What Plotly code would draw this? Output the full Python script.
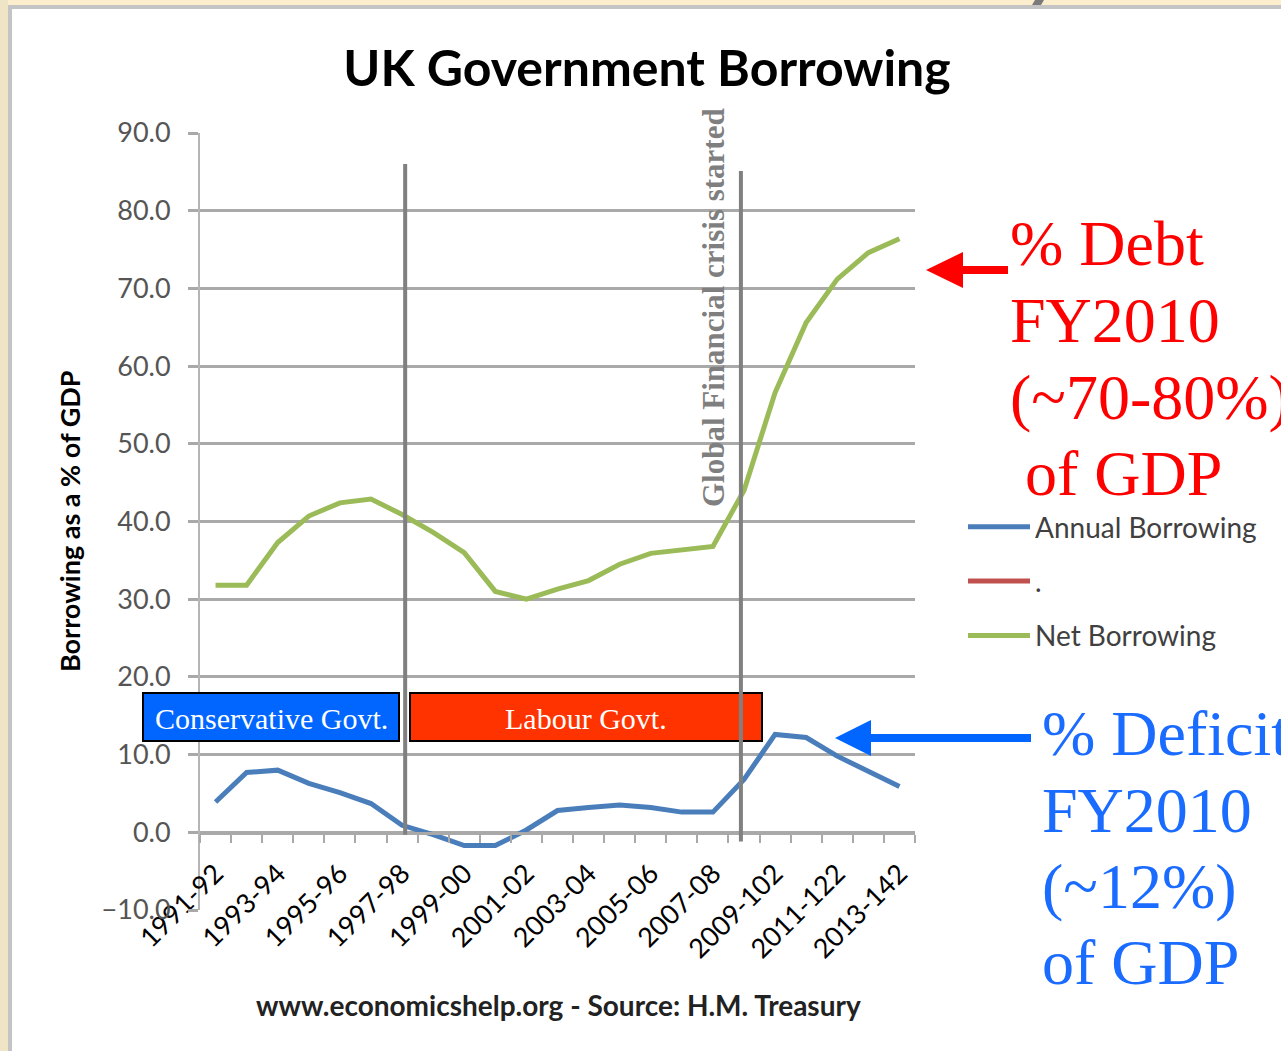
import plotly.graph_objects as go

# ---------------- data ----------------
years = ["1991-92", "1992-93", "1993-94", "1994-95", "1995-96", "1996-97", "1997-98",
         "1998-99", "1999-00", "2000-01", "2001-02", "2002-03", "2003-04", "2004-05",
         "2005-06", "2006-07", "2007-08", "2008-09", "2009-10", "2010-11", "2011-12",
         "2012-13", "2013-14"]
tick_labels = ["1991-92", "1993-94", "1995-96", "1997-98", "1999-00", "2001-02",
               "2003-04", "2005-06", "2007-08", "2009-102", "2011-122", "2013-142"]
annual_borrowing = [3.9, 7.7, 8.0, 6.3, 5.1, 3.7, 0.9, -0.3, -1.7, -1.7, 0.3, 2.8, 3.2,
                    3.5, 3.2, 2.6, 2.6, 6.8, 12.6, 12.2, 9.8, 7.9, 5.9]
net_borrowing = [31.8, 31.8, 37.3, 40.7, 42.4, 42.9, 40.9, 38.6, 36.0, 31.0, 30.0, 31.3,
                 32.4, 34.5, 35.9, 36.3, 36.8, 44.0, 56.6, 65.6, 71.2, 74.6, 76.4]
blank_series = [None] * len(years)

# ---------------- geometry helpers (reference pixel -> paper) ----------------
W, H = 1281, 1051
L, T = 200, 133
PW, PH = 715, 777
R, B = W - L - PW, H - T - PH


def px(x):
    return (x - L) / PW


def py(y):
    return (H - B - y) / PH


xi = list(range(len(years)))
tick_idx = list(range(0, len(years), 2))

GRID = "#A9A9A9"
fig = go.Figure()

fig.add_trace(go.Scatter(x=xi, y=annual_borrowing, mode="lines", name="Annual Borrowing",
                         line=dict(color="#4A7EBB", width=5), legendgroup="a"))
fig.add_trace(go.Scatter(x=xi, y=blank_series, mode="lines", name=".",
                         line=dict(color="#C0504D", width=5), legendgroup="b"))
fig.add_trace(go.Scatter(x=xi, y=net_borrowing, mode="lines", name="Net Borrowing",
                         line=dict(color="#9BBB59", width=5), legendgroup="c"))

shapes = []
# outer frame
shapes.append(dict(type="rect", xref="paper", yref="paper", x0=px(0), x1=px(W), y0=py(0), y1=py(5),
                   fillcolor="#FCEDCD", line=dict(width=0), layer="below"))
shapes.append(dict(type="rect", xref="paper", yref="paper", x0=px(0), x1=px(W), y0=py(5), y1=py(9),
                   fillcolor="#C4C4C4", line=dict(width=0), layer="below"))
shapes.append(dict(type="rect", xref="paper", yref="paper", x0=px(0), x1=px(8), y0=py(0), y1=py(H),
                   fillcolor="#EFE5C6", line=dict(width=0), layer="below"))
shapes.append(dict(type="rect", xref="paper", yref="paper", x0=px(8), x1=px(12), y0=py(9), y1=py(H),
                   fillcolor="#C4C4C4", line=dict(width=0), layer="below"))
shapes.append(dict(type="path", xref="paper", yref="paper",
                   path=f"M{px(1035)},{py(0)} L{px(1044)},{py(0)} L{px(1041)},{py(5)} L{px(1032)},{py(5)} Z",
                   fillcolor="#7A7A7A", line=dict(width=0)))
# government boxes
shapes.append(dict(type="rect", xref="paper", yref="paper", x0=px(143), x1=px(399), y0=py(741), y1=py(693),
                   fillcolor="#0066FF", line=dict(color="black", width=2)))
shapes.append(dict(type="rect", xref="paper", yref="paper", x0=px(410), x1=px(762), y0=py(741), y1=py(693),
                   fillcolor="#FF3300", line=dict(color="black", width=2)))
# event lines
shapes.append(dict(type="line", xref="x", yref="y", x0=6.1, x1=6.1, y0=-0.3, y1=86.0,
                   line=dict(color="#808080", width=4)))
shapes.append(dict(type="line", xref="x", yref="y", x0=16.9, x1=16.9, y0=-1.2, y1=85.1,
                   line=dict(color="#808080", width=4)))
# arrows
shapes.append(dict(type="rect", xref="paper", yref="paper", x0=px(958), x1=px(1008), y0=py(274), y1=py(266),
                   fillcolor="#FF0000", line=dict(width=0)))
shapes.append(dict(type="path", xref="paper", yref="paper",
                   path=f"M{px(926)},{py(270)} L{px(963)},{py(252)} L{px(963)},{py(288)} Z",
                   fillcolor="#FF0000", line=dict(width=0)))
shapes.append(dict(type="rect", xref="paper", yref="paper", x0=px(866), x1=px(1031), y0=py(742), y1=py(734),
                   fillcolor="#0066FF", line=dict(width=0)))
shapes.append(dict(type="path", xref="paper", yref="paper",
                   path=f"M{px(835)},{py(738)} L{px(871)},{py(720)} L{px(871)},{py(756)} Z",
                   fillcolor="#0066FF", line=dict(width=0)))

ann = []
SERIF = "Liberation Serif"


def note(text, x, y, size, color, family=SERIF, xanchor="center", angle=0):
    ann.append(dict(text=text, x=px(x), y=py(y), xref="paper", yref="paper",
                    xanchor=xanchor, yanchor="middle", showarrow=False, textangle=angle,
                    font=dict(family=family, size=size, color=color)))


note("Conservative Govt.", 271, 718, 30, "white")
note("Labour Govt.", 586, 718, 30, "white")
note("<b>Global Financial crisis started</b>", 713, 308, 31, "#7F7F7F", angle=-90)
for txt, yy, xx in [("% Debt", 243, 1008), ("FY2010", 320, 1008), ("(~70-80%)", 397, 1008),
                    ("of GDP", 473, 1023)]:
    note(txt, xx, yy, 64, "#FF0000", xanchor="left")
for txt, yy in [("% Deficit", 733), ("FY2010", 810), ("(~12%)", 886), ("of GDP", 962)]:
    note(txt, 1040, yy, 64, "#1A6BFF", xanchor="left")
note("<b>Borrowing as a % of GDP</b>", 69, 521, 27, "black", family="Lato", angle=-90)
note("<b>www.economicshelp.org - Source: H.M. Treasury</b>", 558, 1005, 28, "#222222", family="Lato")

fig.update_layout(
    width=W, height=H, autosize=False,
    margin=dict(l=L, r=R, t=T, b=B, pad=0),
    paper_bgcolor="white", plot_bgcolor="white",
    title=dict(text="<b>UK Government Borrowing</b>", x=647 / W, xanchor="center",
               y=1 - 68 / H, yanchor="middle", yref="container",
               font=dict(family="Lato", size=50, color="black")),
    shapes=shapes, annotations=ann,
    showlegend=True,
    legend=dict(x=px(963), y=py(502), xanchor="left", yanchor="top", tracegroupgap=15,
                font=dict(family="Lato", size=28, color="#404040"), bgcolor="rgba(0,0,0,0)",
                itemwidth=62),
    xaxis=dict(range=[-0.5, len(years) - 0.5], anchor="free", position=py(833),
               tickmode="array", tickvals=tick_idx, ticktext=tick_labels, tickangle=-45,
               ticks="", showgrid=False, zeroline=False,
               showline=True, linecolor=GRID, linewidth=3,
               tickfont=dict(family="Lato", size=27, color="black"), ticklabelstandoff=12,
               minor=dict(tickmode="array", tickvals=[i - 0.5 for i in range(len(years) + 1)],
                          ticks="outside", ticklen=8, tickwidth=2, tickcolor=GRID, showgrid=False)),
    yaxis=dict(range=[-10, 90], dtick=10, tick0=0, tickformat=".1f",
               showgrid=True, gridcolor=GRID, gridwidth=2.5, zeroline=False,
               showline=True, linecolor="#B5B5B5", linewidth=2,
               ticks="outside", ticklen=10, tickwidth=2.5, tickcolor=GRID,
               ticklabelstandoff=12,
               tickfont=dict(family="Lato", size=27, color="#555555")),
)

fig.write_html("out.html",
               config={"displayModeBar": False},
               post_script="document.body.style.margin='0px';"
                           "document.documentElement.style.overflow='hidden';")
